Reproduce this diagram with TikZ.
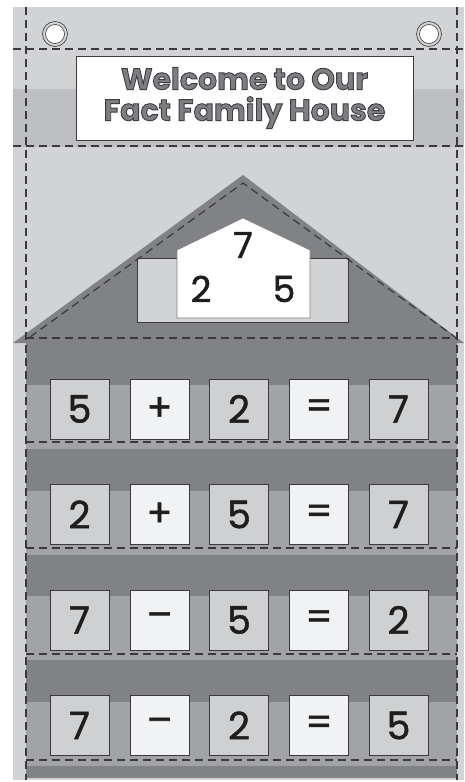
\documentclass[tikz,border=0pt]{standalone}
\usepackage{fontspec}
\setmainfont{Poppins}
\newfontfamily\digitface{Poppins}[FakeBold=1.4]
\definecolor{panel}{HTML}{D2D3D5}
\definecolor{band}{HTML}{BEBFC2}
\definecolor{roof}{HTML}{818285}
\definecolor{pocket}{HTML}{A2A3A6}
\definecolor{tilegray}{HTML}{CFD0D2}
\definecolor{tilewhite}{HTML}{F1F2F3}
\definecolor{ink}{HTML}{1E1E1E}
\definecolor{titlegray}{HTML}{7E7F82}
\definecolor{seam}{HTML}{3A3A3C}
\newcommand{\digitfont}{\digitface\fontsize{38}{38}\selectfont}
\newcommand{\outlined}[1]{\special{pdf:literal direct 2 Tr 0.9 w 0.24 0.24 0.25 RG}#1\special{pdf:literal direct 0 Tr}}
\tikzset{
  seamline/.style={draw=seam,line width=1.2pt,dash pattern=on 8pt off 5pt},
  numtile/.style={draw=seam,line width=0.8pt,fill=tilegray,minimum width=59pt,
    minimum height=60pt,inner sep=0pt,text=ink,font=\digitfont},
  signtile/.style={numtile,fill=tilewhite}
}

\begin{document}
\begin{tikzpicture}[x=1pt,y=-1pt]
\useasboundingbox (0,0) rectangle (464,782);

% panel
\fill[panel] (13,7) rectangle (464,780);
\fill[band] (13,89) rectangle (464,147);

% grommets
\filldraw[fill=panel,draw=seam,line width=0.6pt] (55,34) circle (12.5);
\filldraw[fill=white,draw=seam,line width=0.6pt] (55,34) circle (9.5);
\filldraw[fill=panel,draw=seam,line width=0.6pt] (429,34) circle (12.5);
\filldraw[fill=white,draw=seam,line width=0.6pt] (429,34) circle (9.5);

% banner
\node[draw=seam,line width=0.8pt,fill=white,minimum width=337pt,minimum height=84pt,
  inner sep=0pt] (banner) at (244.5,98) {};
\node[align=center,text=titlegray,font=\fontsize{30}{31}\selectfont\bfseries]
  (title) at (banner.center) {\outlined{Welcome to Our}\\
  \outlined{Fact Family House}};

% roof and body
\fill[roof] (13,343) -- (243,175) -- (464,343) -- cycle;
\fill[roof] (26,338) rectangle (457,778);

% attic window
\filldraw[fill=panel,draw=seam,line width=0.8pt] (137,258) rectangle (348,322);
\filldraw[fill=white,draw=gray,line width=0.6pt]
  (177,318) -- (177,250) -- (243,218) -- (310,250) -- (310,318) -- cycle;
\node[text=ink,font=\digitface\fontsize{36}{36}\selectfont] (top) at (243,245) {7};
\node[text=ink,font=\digitface\fontsize{36}{36}\selectfont] (left) at (201,289) {2};
\node[text=ink,font=\digitface\fontsize{36}{36}\selectfont] (right) at (284,289) {5};

% pockets
\fill[pocket] (26,385) rectangle (457,449);
\fill[pocket] (26,490.5) rectangle (457,554.5);
\fill[pocket] (26,596) rectangle (457,660);
\fill[pocket] (26,701.5) rectangle (457,765.5);

\draw[seamline] (26,442) -- (457,442);
\draw[seamline] (26,548) -- (457,548);
\draw[seamline] (26,654) -- (457,654);
\draw[seamline] (26,760) -- (457,760);

% seams
\draw[seamline] (13,49) -- (464,49);
\draw[seamline] (13,146) -- (464,146);
\draw[seamline] (26,7) -- (26,780);
\draw[seamline] (457,7) -- (457,780);
\draw[seamline] (26,338) -- (457,338);
\draw[seamline] (30,337) -- (243,183) -- (455,337);

% row 1
\node[numtile] (a1) at (79.5,409) {5};
\node[signtile] (a2) at (159.5,409) {+};
\node[numtile] (a3) at (239,409) {2};
\node[signtile] (a4) at (319,409) {=};
\node[numtile] (a5) at (398.5,409) {7};

% row 2
\begin{scope}[shift={(0,105.5)}]
\node[numtile] (b1) at (79.5,409) {2};
\node[signtile] (b2) at (159.5,409) {+};
\node[numtile] (b3) at (239,409) {5};
\node[signtile] (b4) at (319,409) {=};
\node[numtile] (b5) at (398.5,409) {7};
\end{scope}

% row 3
\begin{scope}[shift={(0,211)}]
\node[numtile] (c1) at (79.5,409) {7};
\node[signtile] (c2) at (159.5,409) {–};
\node[numtile] (c3) at (239,409) {5};
\node[signtile] (c4) at (319,409) {=};
\node[numtile] (c5) at (398.5,409) {2};
\end{scope}

% row 4
\begin{scope}[shift={(0,316.5)}]
\node[numtile] (d1) at (79.5,409) {7};
\node[signtile] (d2) at (159.5,409) {–};
\node[numtile] (d3) at (239,409) {2};
\node[signtile] (d4) at (319,409) {=};
\node[numtile] (d5) at (398.5,409) {5};
\end{scope}

\end{tikzpicture}
\end{document}
